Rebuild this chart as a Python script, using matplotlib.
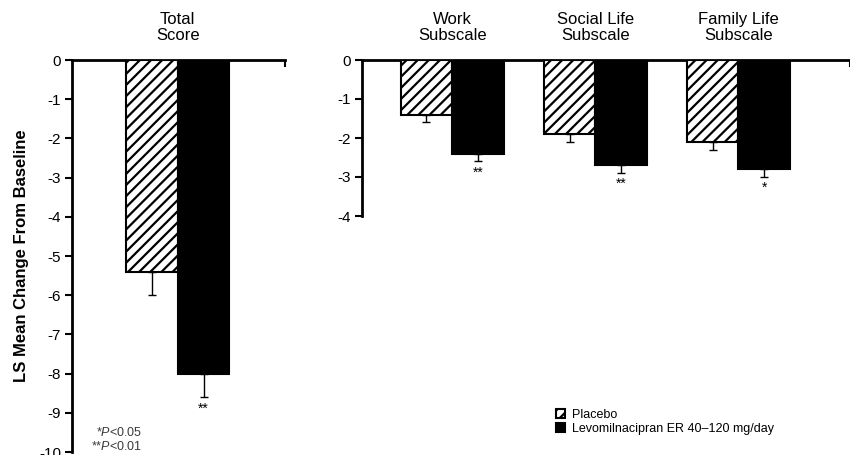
import matplotlib
matplotlib.use('Agg')
import matplotlib.pyplot as plt
import numpy as np

plt.rcParams['font.family'] = ['Liberation Sans', 'DejaVu Sans']
plt.rcParams['axes.unicode_minus'] = False
plt.rcParams['mathtext.fontset'] = 'custom'
plt.rcParams['mathtext.rm'] = 'Liberation Sans'
plt.rcParams['mathtext.it'] = 'Liberation Sans:italic'
plt.rcParams['hatch.linewidth'] = 1.6

# data
total_title = 'Total\nScore'
total_placebo = -5.4
total_placebo_se = 0.6
total_levo = -8.0
total_levo_se = 0.6
total_sig = '**'

sub_titles = ['Work\nSubscale', 'Social Life\nSubscale', 'Family Life\nSubscale']
sub_placebo = [-1.4, -1.9, -2.1]
sub_placebo_se = [0.2, 0.2, 0.2]
sub_levo = [-2.4, -2.7, -2.8]
sub_levo_se = [0.2, 0.2, 0.2]
sub_sig = ['**', '**', '*']

labels = ['Placebo', 'Levomilnacipran ER 40\u2013120 mg/day']
footnotes = ['*$\\it{P}$<0.05', '**$\\it{P}$<0.01']

W, H = 850, 455
fig = plt.figure(figsize=(8.5, 4.55), dpi=100)
ax1 = fig.add_axes([72/W, 3/H, (285-72)/W, (452-60)/H])
ax2 = fig.add_axes([362/W, (455-216)/H, (850-362)/W, 156/H])

bw = 0.36
err_kw = dict(ecolor='black', elinewidth=1.0, capsize=3, capthick=1.0)


def style(ax, ymin, xlim):
    ax.set_ylim(ymin, 0)
    ax.set_xlim(*xlim)
    ax.set_yticks(np.arange(ymin, 1, 1))
    ax.set_yticklabels([str(int(v)) for v in np.arange(ymin, 1, 1)])
    for s in ['right', 'bottom']:
        ax.spines[s].set_visible(False)
    ax.spines['left'].set_linewidth(2)
    ax.spines['top'].set_linewidth(2)
    ax.tick_params(axis='y', length=5, width=1.5, labelsize=11, pad=3)
    ax.xaxis.tick_top()
    ax.set_xticks([xlim[1]])
    ax.tick_params(axis='x', direction='in', length=5, width=1.5,
                   labeltop=False)


def title(ax, x, t):
    ax.annotate(t, xy=(x, 1), xycoords=('data', 'axes fraction'),
                xytext=(0, 17), textcoords='offset pixels',
                ha='center', va='bottom', fontsize=12, linespacing=1.05)


# Total score panel
x = np.array([0.0])
b1 = ax1.bar(x - bw/2, [total_placebo], bw, color='white', edgecolor='black',
             hatch='///', linewidth=1.5, zorder=3)
b2 = ax1.bar(x + bw/2, [total_levo], bw, color='black', edgecolor='black',
             linewidth=1.5, zorder=3)
ax1.errorbar(x - bw/2, [total_placebo], yerr=[[total_placebo_se], [0]],
             fmt='none', zorder=2, **err_kw)
ax1.errorbar(x + bw/2, [total_levo], yerr=[[total_levo_se], [0]],
             fmt='none', zorder=2, **err_kw)
ax1.text(x[0] + bw/2, total_levo - total_levo_se - 0.12, total_sig,
         ha='center', va='top', fontsize=10)
style(ax1, -10, (-0.74, 0.75))
ax1.set_ylabel('LS Mean Change From Baseline', fontsize=12,
               fontweight='bold', labelpad=7)
title(ax1, 0, total_title)

# Subscale panel
xs = np.arange(len(sub_titles))
ax2.bar(xs - bw/2, sub_placebo, bw, color='white', edgecolor='black',
        hatch='///', linewidth=1.5, zorder=3)
ax2.bar(xs + bw/2, sub_levo, bw, color='black', edgecolor='black',
        linewidth=1.5, zorder=3)
ax2.errorbar(xs - bw/2, sub_placebo,
             yerr=[sub_placebo_se, [0]*len(xs)], fmt='none', zorder=2, **err_kw)
ax2.errorbar(xs + bw/2, sub_levo,
             yerr=[sub_levo_se, [0]*len(xs)], fmt='none', zorder=2, **err_kw)
for xi, v, se, s in zip(xs, sub_levo, sub_levo_se, sub_sig):
    ax2.text(xi + bw/2, v - se - 0.1, s, ha='center', va='top', fontsize=10)
style(ax2, -4, (-0.63, 2.78))
for xi, t in zip(xs, sub_titles):
    title(ax2, xi, t)

# footnotes
for i, t in enumerate(footnotes):
    fig.text(142/W, 1 - (432 + 14*i)/H, t, ha='right', va='center',
             fontsize=9, color='#3a3a3a')

fig.legend([b1, b2], labels, loc='upper left',
           bbox_to_anchor=(556/W, 1 - 409/H), frameon=False, fontsize=9,
           borderpad=0, borderaxespad=0,
           handlelength=0.7, handleheight=0.7, handletextpad=0.55,
           labelspacing=0.15)

fig.savefig('out.png', dpi=100)
